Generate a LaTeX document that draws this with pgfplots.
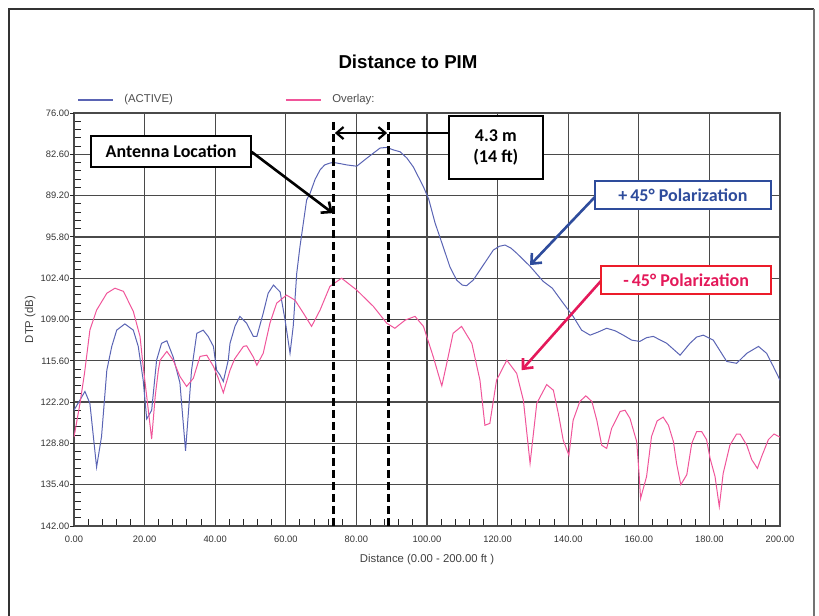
\documentclass[border=0pt]{standalone}
\usepackage{fontspec}
\setmainfont{Liberation Sans}
\newfontfamily\calibri{Carlito}
\usepackage{pgfplots}
\pgfplotsset{compat=1.18}
\usetikzlibrary{arrows.meta}

% 1 px of the 819x616 reference
\newlength\px \setlength\px{0.75pt}

\definecolor{activeblue}{HTML}{5A64B4}
\definecolor{overlaypink}{HTML}{F0559A}
\definecolor{annblue}{HTML}{2E4C9C}
\definecolor{annred}{HTML}{EC1C2A}
\definecolor{annpink}{HTML}{E4195A}
\definecolor{gridgray}{HTML}{4A4A4A}

\tikzset{
  barb/.style={-{Straight Barb[length=6pt, width=10.5pt]}},
  dblbarb/.style={{Straight Barb[length=5.25pt, width=9pt]}-{Straight Barb[length=5.25pt, width=9pt]}},
  locline/.style={black, line width=1.95pt, dash pattern=on 6pt off 3pt},
  callout/.style={line width=1.2pt, fill=white, font=\calibri\bfseries\fontsize{13.5}{16}\selectfont},
}

\begin{document}
\begin{tikzpicture}
\begin{scope}[x=1\px, y=-1\px]
  \path[use as bounding box] (0,0) rectangle (819,616);
  % outer frame
  \draw[line width=1.1pt, black!80] (9,616) -- (9,9) -- (814,9);
  \draw[line width=1.9pt, black!55] (814,9) -- (814,616);
  \node[font=\bfseries\fontsize{14}{16}\selectfont] at (408,62) {Distance to PIM};
\end{scope}

\begin{axis}[
    at={(74\px,-526\px)}, anchor=south west,
    scale only axis, width=706\px, height=413\px,
    xmin=0, xmax=200, ymin=76, ymax=142, y dir=reverse,
    xtick={0,20,...,200},
    ytick={76,82.6,89.2,95.8,102.4,109,115.6,122.2,128.8,135.4,142},
    minor x tick num=4, minor y tick num=4,
    xtick pos=left, ytick pos=left,
    tick align=inside, major tick length=0pt, minor tick length=5.25pt,
    extra y ticks={76,82.6,89.2,95.8,102.4,109,115.6,122.2,128.8,135.4,142},
    extra y tick labels={},
    extra y tick style={tick align=outside, major tick length=3pt, grid=none},
    grid=major,
    major grid style={gridgray, line width=1pt},
    axis line style={gridgray, line width=1pt},
    tick style={black!85, line width=0.7pt},
    ticklabel style={font=\fontsize{7}{8}\selectfont, text=black!80},
    xticklabel style={yshift=-4pt},
    /pgf/number format/.cd, fixed, fixed zerofill, precision=2, 1000 sep={}, assume math mode=true,
    /pgfplots/.cd,
    xlabel={Distance (0.00 - 200.00 ft )},
    ylabel={DTP (dB)},
    xlabel style={font=\fontsize{8.5}{10}\selectfont, text=black!75, yshift=-1.5pt},
    ylabel style={font=\fontsize{8.5}{10}\selectfont, text=black!75, yshift=-6pt},
    legend columns=2,
    legend style={at={(0,1)}, anchor=south west, yshift=2pt, xshift=-1pt, draw=none, fill=none,
        font=\fontsize{8.5}{10}\selectfont,
        /tikz/every odd column/.append style={column sep=6pt},
        /tikz/every even column/.append style={column sep=82pt}},
]
\addplot[activeblue, line width=0.75pt,
  legend image code/.code={\draw[activeblue, line width=1.6pt] (0pt,0pt) -- (26pt,0pt);}] coordinates {
 (0,123.5) (3.1,120.5) (4.5,122.4) (6.4,132.6) (7.8,127.7) (9.3,117.1)
 (10.7,113.3) (12.1,110.7) (14.4,109.7) (16.8,110.7) (18.2,113.3) (19.6,118.7)
 (20.6,124.9) (22.0,123.5) (23.4,115.5) (24.8,112.8) (26.3,112.4) (28.1,115.0)
 (30.0,119.1) (31.6,130.0) (33.3,117.1) (34.8,111.2) (36.6,110.7) (38.0,111.7)
 (39.5,113.3) (40.4,117.1) (41.4,117.9) (42.3,118.9) (43.7,115.5) (44.2,112.8)
 (45.6,110.1) (47.0,108.5) (48.9,109.6) (50.8,111.7) (51.8,111.7) (53.6,108.0)
 (55.0,104.8) (56.5,103.5) (58.4,104.6) (59.8,109.1) (61.2,114.4) (62.1,110.1)
 (63.1,101.6) (64.0,97.4) (65.9,89.9) (66.9,88.8) (68.3,86.6) (69.7,85.1) (71.0,84.3) (72.5,84.0)
 (73.5,83.9) (75.5,84.1) (77.3,84.3) (80.1,84.5) (83.0,83.2) (86.7,81.6) (88.6,81.5)
 (90.5,81.9) (92.4,82.2) (94.3,83.2) (96.1,84.6) (99.0,87.8) (100.5,89.8) (102.3,93.6)
 (104.6,97.4) (106.5,100.6) (108.4,102.7) (110.0,103.5) (111.2,103.6) (113.1,102.7) (115.0,101.1)
 (116.9,99.5) (118.8,97.9) (120.5,97.3) (122.1,97.1) (123.8,97.6) (125.4,98.4) (129.2,100.5) (132.9,102.9)
 (135.5,104.0) (138.6,106.4) (141.4,108.5) (143.8,110.7) (146.2,111.5) (148.5,111.0) (150.9,110.4)
 (153.3,110.8) (155.6,111.5) (158.0,112.3) (160.3,112.5) (162.2,111.9) (164.1,111.7) (167.9,112.8) (171.7,114.7) (174.5,112.8)
 (176.4,111.8) (178.3,111.5) (181.1,112.3) (184.9,115.7) (187.7,116.0) (190.6,114.4) (193.9,113.3)
 (196.2,114.4) (198.1,116.5) (200,118.7)
};
\addlegendentry{\textcolor{black!70}{(ACTIVE)}}
\addplot[overlaypink, line width=0.75pt,
  legend image code/.code={\draw[overlaypink, line width=1.6pt] (0pt,0pt) -- (26pt,0pt);}] coordinates {
 (0,127.8) (1.7,122.4) (3.0,117.5) (4.5,110.7) (6.4,107.5) (9.3,104.8)
 (11.6,104.0) (14.0,104.5) (16.8,107.7) (18.7,111.7) (19.6,116.5) (20.6,121.3)
 (22.0,128.1) (23.0,121.3) (23.9,117.1) (24.4,115.5) (26.3,114.1) (28.1,115.5)
 (30.0,118.1) (31.9,119.7) (33.8,118.4) (35.7,114.9) (37.6,114.7) (39.5,116.5)
 (40.9,118.4) (42.3,120.7) (44.2,117.1) (45.5,115.3) (48.0,113.3) (48.9,113.2)
 (50.8,115.0) (51.8,116.3) (53.6,114.4) (55.5,109.6) (57.4,106.4) (60.2,105.1)
 (62.6,105.9) (65.0,108.0) (67.3,110.1) (69.7,107.5) (72.5,103.7) (75.8,102.4)
 (80.1,104.3) (84.8,106.9) (88.6,109.6) (90.9,110.4) (93.8,109.1) (96.6,108.5)
 (99.0,110.1) (101.8,115.0) (103.7,118.7) (104.2,119.6) (105.6,116.0) (107.4,111.2)
 (109.8,110.1) (112.7,112.8) (115.0,118.7) (116.4,125.9) (117.8,125.6) (119.7,118.7)
 (122.6,115.5) (125.4,117.6) (127.3,121.9) (129.2,132.0) (131.1,122.4) (133.9,119.4)
 (135.8,120.3) (137.2,124.0) (138.6,128.3) (140.2,130.7) (141.4,125.1) (143.3,122.1)
 (145.0,121.2) (146.7,122.1) (148.1,125.1) (149.5,129.1) (150.9,129.6) (152.3,126.4)
 (154.7,123.7) (156.1,123.5) (157.5,124.8) (159.4,128.5) (160.1,133.8) (160.5,137.6)
 (162.2,134.1) (163.6,127.7) (165.2,125.2) (166.9,124.6) (168.4,125.9) (169.8,128.5)
 (170.7,132.0) (171.9,135.4) (173.6,133.8) (175.0,128.8) (176.4,126.9) (177.8,126.9)
 (179.2,128.2) (180.2,131.2) (181.6,134.1) (182.8,138.9) (183.9,133.6) (185.8,129.1)
 (187.7,127.3) (188.7,127.3) (190.6,129.1) (192.0,131.4) (193.6,132.8) (194.8,130.9)
 (196.7,128.2) (198.3,127.3) (200,127.8)
};
\addlegendentry{\textcolor{black!70}{Overlay:}}

% antenna location markers
\draw[locline] (axis cs:73.5,77.4) -- (axis cs:73.5,142);
\draw[locline] (axis cs:89.1,77.4) -- (axis cs:89.1,142);
\draw[black, line width=1.65pt, dblbarb] (axis cs:73.9,79.2) -- (axis cs:88.7,79.2);
\draw[black, line width=1.1pt] (axis cs:89.1,79.2) -- (axis cs:106.2,79.2);
\node[callout, draw=black, minimum width=70.5pt, minimum height=47pt, align=center]
  at (axis cs:119.5,81.5) {4.3 m\\(14 ft)};

\draw[black, line width=1.95pt, barb] (axis cs:50.3,82.2) -- (axis cs:73.3,92.0);
\node[callout, draw=black, minimum width=120pt, minimum height=23.25pt]
  at (axis cs:27.5,82.15) {Antenna Location};

\draw[annblue, line width=1.95pt, barb] (axis cs:147.6,89.4) -- (axis cs:129.2,100.3);
\node[callout, draw=annblue, text=annblue, minimum width=132pt, minimum height=21pt]
  at (axis cs:172.5,89.1) {+\,45° Polarization};

\draw[annpink, line width=1.95pt, barb] (axis cs:149.5,102.7) -- (axis cs:126.8,117.1);
\node[callout, draw=annred, text=annpink, minimum width=127.5pt, minimum height=21pt]
  at (axis cs:173.4,102.7) {-\,45° Polarization};
\end{axis}
\end{tikzpicture}
\end{document}
